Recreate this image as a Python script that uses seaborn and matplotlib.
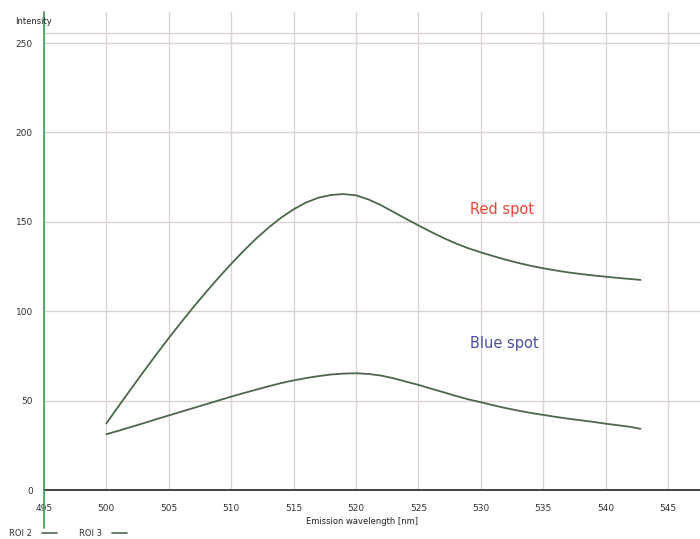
import matplotlib
matplotlib.use("Agg")
import matplotlib.pyplot as plt
import seaborn as sns
import pandas as pd
from matplotlib.lines import Line2D

# ---- data ----
wavelength = [500, 501, 502, 503, 504, 505, 506, 507, 508, 509, 510,
              511, 512, 513, 514, 515, 516, 517, 518, 519, 520,
              521, 522, 523, 524, 525, 526, 527, 528, 529, 530,
              531, 532, 533, 534, 535, 536, 537, 538, 539, 540,
              541, 542, 542.8]
roi2 = [37.3, 47.1, 56.8, 66.4, 75.8, 85.0, 93.9, 102.5, 110.8, 118.8, 126.5,
        133.8, 140.6, 146.8, 152.3, 157.0, 160.8, 163.5, 165.0, 165.5, 164.8,
        162.5, 159.3, 155.5, 151.7, 148.0, 144.4, 141.0, 137.9, 135.2, 132.9,
        130.8, 128.8, 127.0, 125.4, 124.0, 122.8, 121.7, 120.8, 120.0, 119.3,
        118.6, 118.0, 117.5]
roi3 = [31.2, 33.2, 35.3, 37.4, 39.6, 41.7, 43.8, 45.9, 48.0, 50.1, 52.2,
        54.2, 56.1, 58.0, 59.8, 61.3, 62.6, 63.7, 64.6, 65.1, 65.3,
        64.9, 64.0, 62.5, 60.6, 58.8, 56.7, 54.7, 52.6, 50.7, 49.1,
        47.4, 45.8, 44.4, 43.1, 42.0, 40.9, 39.9, 39.0, 38.1, 37.1,
        36.2, 35.3, 34.2]
series_names = ["ROI 2", "ROI 3"]
x_ticks = [495, 500, 505, 510, 515, 520, 525, 530, 535, 540, 545]
y_ticks = [0, 50, 100, 150, 200, 250]
annotations = ["Red spot", "Blue spot"]

df = pd.DataFrame({
    "wavelength": wavelength * 2,
    "intensity": roi2 + roi3,
    "roi": [series_names[0]] * len(wavelength) + [series_names[1]] * len(wavelength),
})

sns.set_style("white")
plt.rcParams["font.family"] = ["DejaVu Sans"]

line_color = "#4a684a"
grid_color = "#dcd2d2"

fig = plt.figure(figsize=(7.0, 5.39), dpi=100)
ax = fig.add_axes([44 / 700, 1 - 490 / 539, 1 - 44 / 700, (490 - 12) / 539])

sns.lineplot(data=df, x="wavelength", y="intensity", hue="roi",
             palette=[line_color, line_color], linewidth=1.3, legend=False,
             ax=ax, zorder=3)

ax.set_xlim(495, 495 + (700 - 44) / 12.48)
ax.set_ylim(0, (490 - 12) / 1.788)

ax.set_xticks(x_ticks)
ax.set_yticks(y_ticks)
ax.set_xticklabels([str(v) for v in x_ticks], fontsize=6.5, color="#333333")
ax.set_yticklabels([str(v) for v in y_ticks], fontsize=6.5, color="#333333")
ax.tick_params(axis="x", direction="out", length=5, width=1.0, color="#333333", pad=5)
ax.tick_params(axis="y", direction="out", length=4, width=1.0, color="#333333", pad=4)

ax.grid(True, color=grid_color, linewidth=1.0, zorder=0)
ax.axhline(255.6, color=grid_color, linewidth=1.0, zorder=0)

for s in ["top", "right"]:
    ax.spines[s].set_visible(False)
ax.spines["bottom"].set_color("#222222")
ax.spines["bottom"].set_linewidth(1.2)
ax.spines["left"].set_visible(False)

# green y axis line extending beyond the plot
fig.add_artist(Line2D([43.5 / 700, 43.5 / 700], [1 - 12 / 539, 1 - 528 / 539],
                      transform=fig.transFigure, color="#3c9a50", linewidth=1.2))

ax.set_xlabel("")
ax.set_ylabel("")
fig.text(15 / 700, 1 - 22 / 539, "Intensity", fontsize=6, color="#222222",
         ha="left", va="center")
fig.text(362 / 700, 1 - 522 / 539, "Emission wavelength [nm]", fontsize=6,
         color="#222222", ha="center", va="center")

ax.text(531.7, 157, annotations[0], color="#e8473a", fontsize=10.5, ha="center", va="center")
ax.text(531.9, 82, annotations[1], color="#4a4fa0", fontsize=10.5, ha="center", va="center")

# legend at bottom-left
for i, name in enumerate(series_names):
    x0 = (9 + i * 70) / 700
    y0 = 1 - 533 / 539
    fig.text(x0, y0, name, fontsize=6, color="#333333", ha="left", va="center")
    fig.add_artist(Line2D([x0 + 33 / 700, x0 + 48 / 700], [y0, y0],
                          transform=fig.transFigure, color=line_color, linewidth=1.2))

fig.savefig("out.png", dpi=100)
